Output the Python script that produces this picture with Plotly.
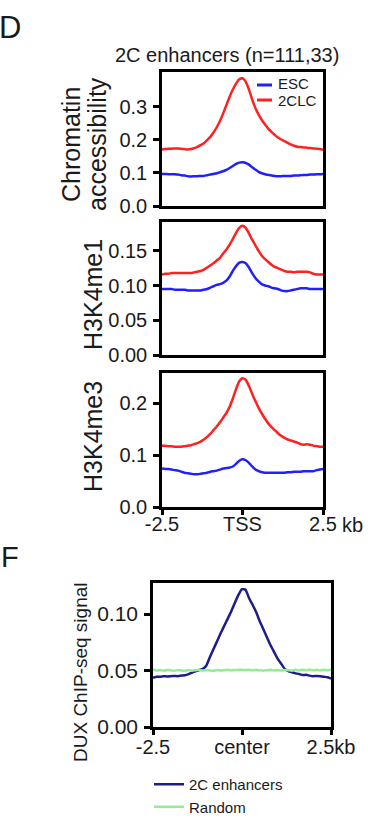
import plotly.graph_objects as go

W, H = 368, 821

# ---------------- data ----------------
positions_kb = [-2.5, -2.4, -2.3, -2.2, -2.1, -2.0, -1.9, -1.8, -1.7, -1.6,
                -1.5, -1.4, -1.3, -1.2, -1.1, -1.0, -0.9, -0.8, -0.7, -0.6,
                -0.5, -0.4, -0.3, -0.2, -0.1, 0.0, 0.1, 0.2, 0.3, 0.4,
                0.5, 0.6, 0.7, 0.8, 0.9, 1.0, 1.1, 1.2, 1.3, 1.4,
                1.5, 1.6, 1.7, 1.8, 1.9, 2.0, 2.1, 2.2, 2.3, 2.4, 2.5]

access_esc = [0.097, 0.097, 0.096, 0.096, 0.096, 0.095, 0.093, 0.092, 0.090, 0.089,
              0.090, 0.090, 0.091, 0.091, 0.093, 0.095, 0.097, 0.099, 0.102, 0.105,
              0.109, 0.115, 0.121, 0.127, 0.131, 0.132, 0.130, 0.125, 0.117, 0.110,
              0.103, 0.099, 0.096, 0.094, 0.092, 0.091, 0.090, 0.090, 0.091, 0.091,
              0.091, 0.092, 0.092, 0.093, 0.094, 0.094, 0.095, 0.095, 0.096, 0.096, 0.097]
access_2clc = [0.171, 0.172, 0.173, 0.173, 0.174, 0.174, 0.173, 0.172, 0.171, 0.172,
               0.175, 0.179, 0.184, 0.190, 0.199, 0.209, 0.222, 0.238, 0.257, 0.280,
               0.305, 0.330, 0.352, 0.370, 0.383, 0.386, 0.376, 0.352, 0.322, 0.296,
               0.276, 0.260, 0.246, 0.234, 0.224, 0.215, 0.207, 0.201, 0.196, 0.191,
               0.186, 0.182, 0.179, 0.178, 0.177, 0.176, 0.175, 0.174, 0.173, 0.172, 0.170]

me1_esc = [0.095, 0.095, 0.095, 0.095, 0.094, 0.094, 0.094, 0.094, 0.093, 0.093,
           0.093, 0.093, 0.093, 0.094, 0.095, 0.097, 0.099, 0.101, 0.102, 0.104,
           0.107, 0.113, 0.121, 0.128, 0.133, 0.134, 0.132, 0.126, 0.118, 0.111,
           0.106, 0.102, 0.100, 0.099, 0.097, 0.096, 0.095, 0.093, 0.092, 0.092,
           0.093, 0.094, 0.095, 0.096, 0.096, 0.096, 0.095, 0.095, 0.095, 0.095, 0.095]
me1_2clc = [0.116, 0.117, 0.117, 0.118, 0.118, 0.118, 0.118, 0.118, 0.118, 0.118,
            0.119, 0.120, 0.121, 0.123, 0.126, 0.129, 0.132, 0.136, 0.140, 0.146,
            0.152, 0.159, 0.167, 0.176, 0.183, 0.186, 0.183, 0.175, 0.166, 0.158,
            0.150, 0.143, 0.138, 0.134, 0.130, 0.127, 0.125, 0.123, 0.121, 0.120,
            0.120, 0.119, 0.120, 0.120, 0.120, 0.120, 0.119, 0.117, 0.116, 0.116, 0.116]

me3_esc = [0.074, 0.073, 0.073, 0.072, 0.071, 0.070, 0.068, 0.066, 0.065, 0.064,
           0.063, 0.063, 0.064, 0.065, 0.066, 0.068, 0.069, 0.070, 0.072, 0.074,
           0.075, 0.076, 0.078, 0.083, 0.089, 0.092, 0.090, 0.085, 0.078, 0.072,
           0.069, 0.067, 0.066, 0.066, 0.066, 0.066, 0.066, 0.066, 0.066, 0.067,
           0.067, 0.068, 0.068, 0.068, 0.069, 0.069, 0.069, 0.069, 0.071, 0.072, 0.073]
me3_2clc = [0.118, 0.118, 0.117, 0.117, 0.116, 0.116, 0.116, 0.117, 0.118, 0.119,
            0.121, 0.123, 0.126, 0.130, 0.135, 0.141, 0.148, 0.155, 0.163, 0.172,
            0.181, 0.193, 0.209, 0.227, 0.242, 0.248, 0.245, 0.233, 0.218, 0.204,
            0.191, 0.180, 0.170, 0.161, 0.154, 0.148, 0.142, 0.137, 0.133, 0.130,
            0.128, 0.126, 0.124, 0.121, 0.120, 0.121, 0.120, 0.118, 0.117, 0.116, 0.116]

dux_2c = [0.0435, 0.0445, 0.0445, 0.0450, 0.0448, 0.0450, 0.0452, 0.0450, 0.0455, 0.0458,
          0.0468, 0.0482, 0.0495, 0.0505, 0.0515, 0.0545, 0.0620, 0.0690, 0.0760, 0.0830,
          0.0895, 0.0960, 0.1025, 0.1100, 0.1170, 0.1220, 0.1215, 0.1140, 0.1080, 0.1015,
          0.0935, 0.0865, 0.0795, 0.0725, 0.0665, 0.0605, 0.0560, 0.0515, 0.0495, 0.0485,
          0.0475, 0.0470, 0.0460, 0.0462, 0.0455, 0.0450, 0.0452, 0.0450, 0.0445, 0.0440, 0.0430]
dux_random = [0.0510, 0.0500, 0.0505, 0.0498, 0.0508, 0.0502, 0.0497, 0.0505, 0.0500, 0.0498,
              0.0504, 0.0499, 0.0503, 0.0506, 0.0500, 0.0505, 0.0501, 0.0498, 0.0504, 0.0500,
              0.0503, 0.0506, 0.0502, 0.0505, 0.0508, 0.0506, 0.0504, 0.0507, 0.0503, 0.0506,
              0.0502, 0.0499, 0.0503, 0.0506, 0.0501, 0.0504, 0.0500, 0.0505, 0.0503, 0.0499,
              0.0506, 0.0501, 0.0507, 0.0502, 0.0509, 0.0503, 0.0506, 0.0501, 0.0508, 0.0503, 0.0506]

x_tickvals = [-2.5, 0.0, 2.5]
x_ticktext_d = ["-2.5", "TSS", "2.5"]
x_ticktext_f = ["-2.5", "center", "2.5kb"]

acc_ticks = [0.0, 0.1, 0.2, 0.3]
acc_ticktext = ["0.0", "0.1", "0.2", "0.3"]
me1_ticks = [0.0, 0.05, 0.10, 0.15]
me1_ticktext = ["0.00", "0.05", "0.10", "0.15"]
me3_ticks = [0.0, 0.1, 0.2]
me3_ticktext = ["0.0", "0.1", "0.2"]
dux_ticks = [0.0, 0.05, 0.10]
dux_ticktext = ["0.00", "0.05", "0.10"]

# ---------------- style ----------------
FONT = "Arial, Liberation Sans, Helvetica, sans-serif"
TXT = "#1a1a1a"
BLUE = "#2020ff"
RED = "#ff2020"
NAVY = "#1c1c8c"
GREEN = "#8ef08e"
LW = 2.5


def fx(px):
    return px / W


def fy(py):
    return 1 - py / H


fig = go.Figure()

panels = [
    ("x", "y", access_esc, access_2clc),
    ("x2", "y2", me1_esc, me1_2clc),
    ("x3", "y3", me3_esc, me3_2clc),
]
for xa, ya, esc, clc in panels:
    fig.add_trace(go.Scatter(x=positions_kb, y=esc, xaxis=xa, yaxis=ya, mode="lines",
                             name="ESC", showlegend=False,
                             line=dict(color=BLUE, width=LW, shape="spline", smoothing=0.5)))
    fig.add_trace(go.Scatter(x=positions_kb, y=clc, xaxis=xa, yaxis=ya, mode="lines",
                             name="2CLC", showlegend=False,
                             line=dict(color=RED, width=LW, shape="spline", smoothing=0.5)))

fig.add_trace(go.Scatter(x=positions_kb, y=dux_2c, xaxis="x4", yaxis="y4", mode="lines",
                         name="2C enhancers", showlegend=True,
                         line=dict(color=NAVY, width=LW, shape="spline", smoothing=0.3)))
fig.add_trace(go.Scatter(x=positions_kb, y=dux_random, xaxis="x4", yaxis="y4", mode="lines",
                         name="Random", showlegend=True,
                         line=dict(color=GREEN, width=LW, shape="spline", smoothing=0.3)))

axis_common = dict(showline=True, mirror=True, linecolor="black", linewidth=LW,
                   showgrid=False, zeroline=False, tickcolor="black", tickwidth=LW,
                   tickfont=dict(family=FONT, size=20, color=TXT))

xd = [fx(162), fx(323)]
xf = [fx(153), fx(331)]


def yaxis_cfg(top, bottom, rng, vals, text, anchor, size=20):
    cfg = dict(axis_common)
    cfg.update(domain=[fy(bottom), fy(top)], range=rng, tickvals=vals, ticktext=text,
               ticks="outside", ticklen=6, ticklabelstandoff=2, anchor=anchor,
               tickfont=dict(family=FONT, size=size, color=TXT))
    return cfg


def xaxis_cfg(domain, anchor, show=False, text=None, size=20, standoff=2):
    cfg = dict(axis_common)
    cfg.update(domain=domain, range=[-2.5, 2.5], anchor=anchor)
    if show:
        cfg.update(tickvals=x_tickvals, ticktext=text, ticks="outside", ticklen=5,
                   showticklabels=True, ticklabelstandoff=standoff,
                   tickfont=dict(family=FONT, size=size, color=TXT))
    else:
        cfg.update(ticks="", showticklabels=False)
    return cfg


fig.update_layout(
    width=W, height=H,
    margin=dict(l=0, r=0, t=0, b=0, pad=0, autoexpand=False),
    paper_bgcolor="white", plot_bgcolor="white",
    font=dict(family=FONT, color=TXT),
    xaxis=xaxis_cfg(xd, "y"),
    yaxis=yaxis_cfg(72, 206, [0, 0.405], acc_ticks, acc_ticktext, "x"),
    xaxis2=xaxis_cfg(xd, "y2"),
    yaxis2=yaxis_cfg(222, 355, [0, 0.1915], me1_ticks, me1_ticktext, "x2"),
    xaxis3=xaxis_cfg(xd, "y3", show=True, text=x_ticktext_d, standoff=-8),
    yaxis3=yaxis_cfg(373, 507, [0, 0.258], me3_ticks, me3_ticktext, "x3"),
    xaxis4=xaxis_cfg(xf, "y4", show=True, text=x_ticktext_f, size=20, standoff=-5),
    yaxis4=yaxis_cfg(583, 727, [0, 0.1275], dux_ticks, dux_ticktext, "x4", size=21),
    showlegend=True,
    legend=dict(x=fx(149), y=fy(768), xanchor="left", yanchor="top",
                font=dict(family=FONT, size=15, color=TXT),
                bgcolor="rgba(0,0,0,0)", itemwidth=30, tracegroupgap=0),
)

ann = []


def text_ann(txt, x, y, size, angle=0, xanchor="center", yanchor="middle", xref="paper", xshift=0):
    ann.append(dict(text=txt, x=x, y=y, xref=xref, yref="paper", showarrow=False,
                    textangle=angle, xanchor=xanchor, yanchor=yanchor, xshift=xshift,
                    font=dict(family=FONT, size=size, color=TXT)))


text_ann("D", fx(-3), fy(27), 31, xanchor="left")
text_ann("F", fx(-1), fy(557), 29, xanchor="left")
text_ann("2C enhancers (n=111,33)", fx(227), fy(55), 20)
text_ann("Chromatin", fx(71), fy(145), 25, angle=-90)
text_ann("accessibility", fx(97), fy(144), 25, angle=-90)
text_ann("H3K4me1", fx(93), fy(295), 25, angle=-90)
text_ann("H3K4me3", fx(93), fy(437), 25, angle=-90)
text_ann("DUX ChIP-seq signal", fx(80), fy(672), 19, angle=-90)
text_ann("kb", 2.5, fy(525), 20, xanchor="left", xref="x3", xshift=17)

# legend keys for panel D (short dashes)
text_ann("ESC", fx(276), fy(84), 15, xanchor="left")
text_ann("2CLC", fx(276), fy(101), 15, xanchor="left")
shapes = [
    dict(type="line", xref="paper", yref="paper", x0=fx(257), x1=fx(272), y0=fy(85), y1=fy(85),
         line=dict(color=BLUE, width=3)),
    dict(type="line", xref="paper", yref="paper", x0=fx(257), x1=fx(272), y0=fy(100), y1=fy(100),
         line=dict(color=RED, width=3)),
]

fig.update_layout(annotations=ann, shapes=shapes)

# remove the browser's default 8px page margin so the figure sits at the window origin
fig.write_html("out.html", config={"displayModeBar": False},
               post_script="document.body.style.margin='0';")
